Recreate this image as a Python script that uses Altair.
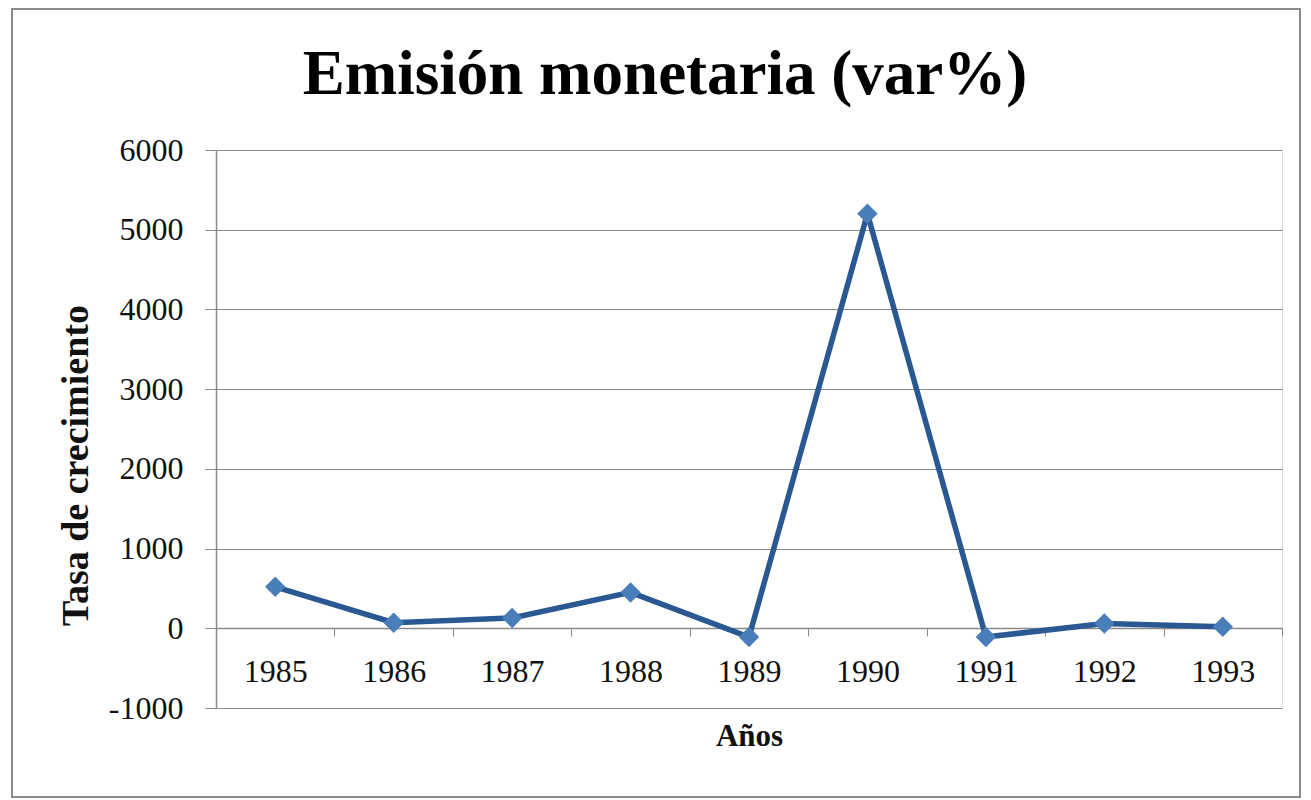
import altair as alt
import pandas as pd

years = ["1985", "1986", "1987", "1988", "1989", "1990", "1991", "1992", "1993"]
values = [520, 70, 130, 450, -110, 5200, -110, 60, 20]
y_ticks = [-1000, 0, 1000, 2000, 3000, 4000, 5000, 6000]

df = pd.DataFrame({"year": years, "value": values})

SERIF = "Liberation Serif"
GRAY = "#8a8a8a"

x_enc = alt.X(
    "year:O",
    scale=alt.Scale(type="band", paddingInner=0, paddingOuter=0),
    axis=alt.Axis(
        title="Años",
        orient="bottom",
        offset=-80,
        labelAngle=0,
        labelFont=SERIF,
        labelFontSize=32,
        labelColor="#111111",
        labelPadding=20,
        labelBaseline="top",
        tickBand="extent",
        tickSize=8,
        tickColor=GRAY,
        domainColor=GRAY,
        domainWidth=1.5,
        grid=False,
        titleFont=SERIF,
        titleFontSize=31,
        titleFontWeight="bold",
        titleColor="#111111",
        titleBaseline="alphabetic",
        titleY=117,
    ),
)

y_enc = alt.Y(
    "value:Q",
    scale=alt.Scale(domain=[-1000, 6000], nice=False, zero=False),
    axis=alt.Axis(
        title="Tasa de crecimiento",
        values=y_ticks,
        labelExpr="'' + datum.value",
        labelFont=SERIF,
        labelFontSize=32,
        labelColor="#111111",
        labelPadding=22,
        tickSize=11,
        tickColor=GRAY,
        domainColor=GRAY,
        domainWidth=1.5,
        grid=True,
        gridColor=GRAY,
        gridWidth=1.2,
        titleFont=SERIF,
        titleFontSize=38,
        titleFontWeight="bold",
        titleColor="#111111",
        titleAngle=270,
        titleAlign="center",
        titleBaseline="alphabetic",
        titleX=-129,
        titleY=315,
    ),
)

line = alt.Chart(df).mark_line(color="#2A5892", strokeWidth=5.5).encode(x=x_enc, y=y_enc)
points = alt.Chart(df).mark_point(
    shape="diamond", size=420, filled=True, color="#4A7EBB", opacity=1
).encode(x="year:O", y="value:Q")

border = alt.Chart(alt.Data(values=[{"a": 1}])).mark_rect(
    fill="transparent", stroke=GRAY, strokeWidth=2
).encode(
    x=alt.value(-204), x2=alt.value(1084), y=alt.value(-141), y2=alt.value(647)
)

chart = alt.layer(border, line, points).properties(
    width=1066,
    height=558,
    autosize=alt.AutoSizeParams(type="none"),
    padding={"left": 208, "top": 142, "right": 21, "bottom": 92},
    title=alt.TitleParams(
        text="Emisión monetaria (var%)",
        font=SERIF,
        fontSize=63,
        fontWeight="bold",
        color="#000000",
        anchor="middle",
        frame="group",
        baseline="alphabetic",
        offset=0,
        dx=-84,
        dy=149,
    ),
).configure_view(stroke=None).configure(background="white")

chart.save("out.html", embed_options={"renderer": "svg", "actions": False})
